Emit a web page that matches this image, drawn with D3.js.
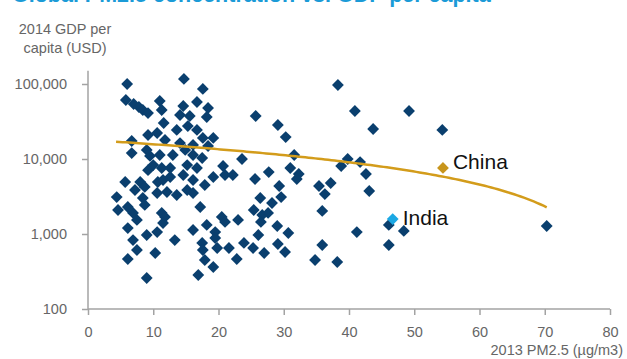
<!DOCTYPE html>
<html>
<head>
<meta charset="utf-8">
<script src="https://cdn.jsdelivr.net/npm/d3@7"></script>
<style>
  html, body { margin: 0; padding: 0; background: #fff; }
  svg { display: block; font-family: "Liberation Sans", Arial, sans-serif; }
</style>
</head>
<body>
<svg id="chart" width="627" height="359"></svg>
<script>
// Country observations: 2013 PM2.5 exposure (µg/m3) and 2014 GDP per capita (USD)
const pm25 = [
  6.0, 5.8, 7.0, 7.8, 8.4, 9.2, 11.0, 11.3, 11.6, 9.2, 10.6, 11.8, 6.7, 6.7, 9.0,
  9.5, 11.0, 10.0, 9.2, 11.3, 5.7, 8.0, 7.2, 8.7, 10.7, 10.6, 4.4, 8.4, 8.7, 6.1,
  4.6, 6.9, 7.5, 11.3, 6.1, 10.6, 9.0, 6.9, 7.5, 6.1, 10.3, 9.0, 11.8, 11.5, 13.3,
  14.7, 17.6, 14.6, 16.7, 18.4, 14.1, 15.6, 18.2, 13.6, 15.3, 16.7, 19.2, 17.6, 16.1, 14.1,
  14.9, 13.0, 16.1, 17.5, 20.7, 15.2, 12.6, 16.7, 12.6, 14.6, 16.1, 17.9, 19.2, 21.0, 13.6,
  15.2, 16.1, 12.1, 11.5, 17.2, 16.1, 18.2, 20.5, 21.0, 19.5, 19.5, 17.5, 17.6, 19.8, 17.9,
  19.2, 16.9, 21.6, 18.4,
  25.7, 29.1, 30.3, 23.6, 22.2, 25.6, 27.7, 31.6, 31.0, 32.3, 32.0, 29.3, 29.6, 26.4, 28.2,
  25.4, 26.7, 27.6, 26.5, 23.0, 29.0, 30.7, 26.1, 23.9, 25.3, 27.0, 29.1, 30.2, 22.8, 35.4,
  37.2, 36.3, 38.8, 35.9, 35.9, 34.8, 38.2, 38.3, 40.9, 43.7, 49.2, 39.8, 41.7, 42.6, 43.1,
  41.2, 46.1, 48.4, 46.1, 54.3, 70.3
];
const gdpPerCapita = [
  100000, 61200, 54100, 49400, 45000, 41000, 59300, 45000, 30200, 20900, 22200, 17900, 17400, 12000, 13200,
  11000, 11300, 8300, 7100, 7590, 4930, 4930, 3860, 4240, 4930, 3520, 3110, 3020, 2440, 2290,
  2090, 1910, 1540, 1910, 1200, 1060, 970, 830, 612, 464, 558, 259, 1690, 1400, 830,
  117000, 86000, 50900, 57500, 47900, 38600, 37400, 36300, 24400, 27500, 24400, 19100, 19100, 15400, 16300,
  13200, 11300, 11300, 10300, 8070, 8300, 7590, 7590, 5750, 6120, 5250, 4500, 5750, 6120, 3310,
  3860, 3520, 3630, 5250, 2290, 1130, 1320, 1690, 1450, 1060, 885, 760, 612, 650, 450,
  363, 284, 650, 14900,
  37400, 28400, 19600, 10000, 6120, 5410, 6700, 11300, 7590, 6310, 5410, 4370, 3110, 3020, 2590,
  2090, 1790, 1910, 1450, 1540, 1280, 1030, 970, 760, 650, 558, 735, 575, 464, 4370,
  4790, 3410, 8070, 2030, 713, 450, 423, 97000, 43600, 25100, 43600, 10000, 9100, 6310, 3740,
  1060, 1320, 1100, 713, 24400, 1280
];

// Labelled countries
const highlightNames = ["China", "India"];
const highlightPm25 = [54.4, 46.7];
const highlightGdp = [7600, 1580];
const highlightColors = ["#c8951c", "#1ba8e4"];
const highlightLabelDy = [1, 6];

// Linear least-squares trend (fitted in linear GDP), endpoints at the data range
const trendPm25 = [4.3, 70.3];
const trendGdp = [17000, 2270];

const xTicks = [0, 10, 20, 30, 40, 50, 60, 70, 80];
const yTicks = [100, 1000, 10000, 100000];
const yAxisTopValue = 150000;

const titleText = "Global PM2.5 concentration vs. GDP per capita";
const yTitleLines = ["2014 GDP per", "capita (USD)"];
const xTitleText = "2013 PM2.5 (µg/m3)";

const navy = "#0a3f6e";
const gold = "#d39c1b";
const axisGrey = "#a3a3a3";
const textGrey = "#666666";

const svg = d3.select("#chart");

const x = d3.scaleLinear().domain([0, 80]).range([88, 610]);
const y = d3.scaleLog().domain([100, 100000]).range([309, 84]);

// Title (runs off the top edge)
svg.append("text")
  .attr("x", 12).attr("y", 2)
  .attr("font-size", 21.5).attr("font-weight", "bold")
  .attr("fill", "#1b9bd7")
  .text(titleText);

// Y axis title
const yTitle = svg.append("text")
  .attr("text-anchor", "middle")
  .attr("font-size", 14.5).attr("fill", textGrey);
yTitleLines.forEach((line, i) => {
  yTitle.append("tspan").attr("x", 65).attr("y", 34 + i * 19).text(line);
});

// X axis title
svg.append("text")
  .attr("x", 623).attr("y", 355)
  .attr("text-anchor", "end")
  .attr("font-size", 14.5).attr("fill", textGrey)
  .text(xTitleText);

// Axes
const xAxis = svg.append("g")
  .attr("transform", `translate(0,${y(100)})`)
  .call(d3.axisBottom(x).tickValues(xTicks).tickSize(6).tickPadding(12).tickSizeOuter(0));
const yAxis = svg.append("g")
  .attr("transform", `translate(${x(0)},0)`)
  .call(d3.axisLeft(y).tickValues(yTicks).tickFormat(d3.format(",")).tickSize(6).tickPadding(15).tickSizeOuter(0));

[xAxis, yAxis].forEach(g => {
  g.select(".domain").remove();
  g.selectAll(".tick line").attr("stroke", axisGrey).attr("stroke-width", 1.5);
  g.selectAll(".tick text").attr("fill", textGrey).attr("font-size", 14.5)
    .attr("font-family", "\"Liberation Sans\", Arial, sans-serif");
});

// Axis lines
svg.append("line")
  .attr("x1", x(0)).attr("x2", x(0))
  .attr("y1", y(yAxisTopValue)).attr("y2", y(100))
  .attr("stroke", axisGrey).attr("stroke-width", 1.5);
svg.append("line")
  .attr("x1", x(0)).attr("x2", x(80))
  .attr("y1", y(100)).attr("y2", y(100))
  .attr("stroke", axisGrey).attr("stroke-width", 1.5);

// Diamond marker
const diamond = d3.symbol().type(d3.symbolSquare).size(70);

const points = pm25.map((p, i) => ({ pm: p, gdp: gdpPerCapita[i] }));
svg.append("g").selectAll("path")
  .data(points)
  .join("path")
  .attr("d", diamond)
  .attr("transform", d => `translate(${x(d.pm)},${y(d.gdp)}) rotate(45)`)
  .attr("fill", navy);

// Trend line: straight in linear GDP, so sample along it for the log axis
const trendFn = p => trendGdp[0] + (trendGdp[1] - trendGdp[0]) * (p - trendPm25[0]) / (trendPm25[1] - trendPm25[0]);
const trendSamples = d3.range(trendPm25[0], trendPm25[1] + 0.001, 0.5).map(p => [p, trendFn(p)]);
svg.append("path")
  .datum(trendSamples)
  .attr("d", d3.line().x(d => x(d[0])).y(d => y(d[1])))
  .attr("fill", "none")
  .attr("stroke", gold)
  .attr("stroke-width", 2.5);

// Highlighted countries with labels
highlightNames.forEach((name, i) => {
  const cx = x(highlightPm25[i]), cy = y(highlightGdp[i]);
  svg.append("path")
    .attr("d", diamond)
    .attr("transform", `translate(${cx},${cy}) rotate(45)`)
    .attr("fill", highlightColors[i]);
  svg.append("text")
    .attr("x", cx + 10).attr("y", cy + highlightLabelDy[i])
    .attr("font-size", 21).attr("fill", "#111")
    .text(name);
});
</script>
</body>
</html>
